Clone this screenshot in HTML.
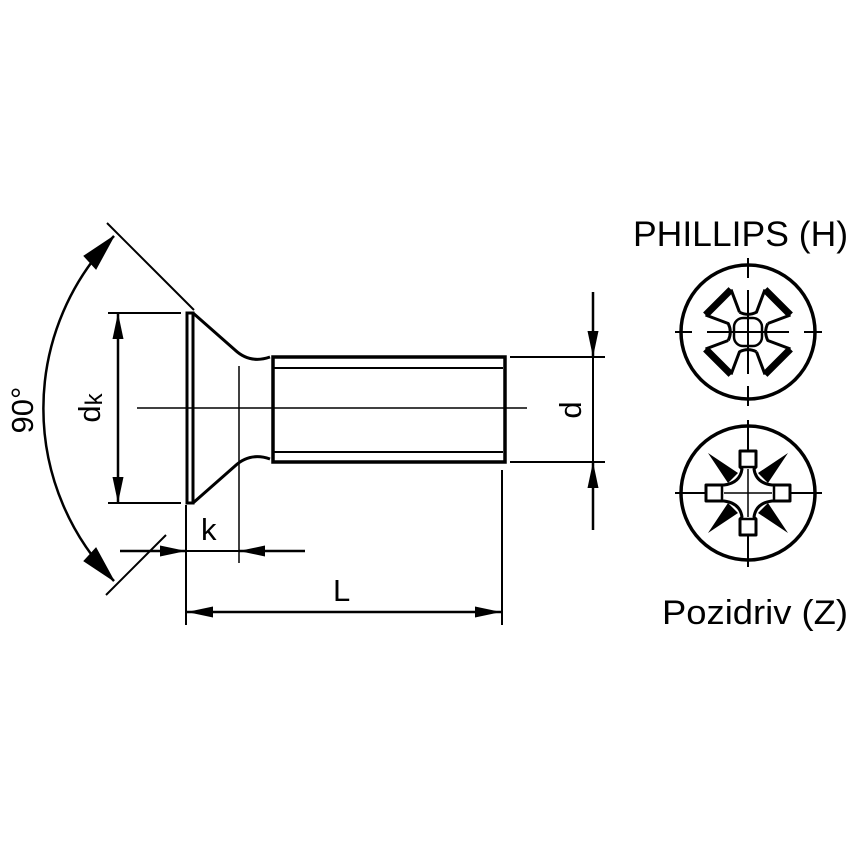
<!DOCTYPE html>
<html><head><style>html,body{margin:0;padding:0;background:#fff}svg{display:block}</style></head>
<body>
<svg width="854" height="854" viewBox="0 0 854 854" xmlns="http://www.w3.org/2000/svg" font-family="Liberation Sans, Arial, sans-serif">
<defs>
<marker id="a" viewBox="0 0 26 11" refX="26" refY="5.5" markerWidth="26" markerHeight="11" markerUnits="userSpaceOnUse" orient="auto"><path d="M0,0 L26,5.5 L0,11 Z" fill="#000"/></marker>
<g id="w">
<path d="M20,8 L42,18 M42,-18 L20,-8 Q11,-11 8,-20" stroke-width="3" fill="none"/>
<path d="M42,18 L42,-18" stroke-width="7" fill="none"/>
</g>
</defs>
<g stroke="#000" fill="none">
<rect x="187" y="313" width="6" height="190" stroke-width="3"/>
<path d="M193,313 L235,350 Q250,364 270,357 M193,503 L235,466 Q250,452 270,459" stroke-width="3"/>
<path d="M273,357 L505,357 L505,462 L273,462 Z" stroke-width="3.5"/>
<path d="M273,368 L503,368 M273,452 L503,452" stroke-width="2"/>
<line x1="137" y1="408" x2="527" y2="408" stroke-width="1.5"/>
<line x1="239" y1="366" x2="239" y2="563" stroke-width="1.5"/>
<path d="M108,313 L181,313 M108,503 L181,503" stroke-width="2"/>
<line x1="118" y1="408" x2="118" y2="313" stroke-width="2.5" marker-end="url(#a)"/>
<line x1="118" y1="408" x2="118" y2="503" stroke-width="2.5" marker-end="url(#a)"/>
<path d="M107,223 L194,310 M166,535 L106,595" stroke-width="2"/>
<path d="M114,236 A246,246 0 0 0 114,581" stroke-width="2.5"/>
<path d="M114,236 l-30,20 l12,13 Z M114,581 l-30,-20 l12,-13 Z" fill="#000" stroke-width="1"/>
<line x1="186" y1="505" x2="186" y2="625" stroke-width="2"/>
<line x1="120" y1="551" x2="186" y2="551" stroke-width="2.5" marker-end="url(#a)"/>
<line x1="305" y1="551" x2="239" y2="551" stroke-width="2.5" marker-end="url(#a)"/>
<line x1="186" y1="551" x2="239" y2="551" stroke-width="2"/>
<line x1="502" y1="470" x2="502" y2="625" stroke-width="2"/>
<line x1="344" y1="612" x2="187" y2="612" stroke-width="2.5" marker-end="url(#a)"/>
<line x1="344" y1="612" x2="501" y2="612" stroke-width="2.5" marker-end="url(#a)"/>
<path d="M510,357 L605,357 M510,462 L605,462" stroke-width="2"/>
<line x1="593" y1="292" x2="593" y2="357" stroke-width="2.5" marker-end="url(#a)"/>
<line x1="593" y1="530" x2="593" y2="462" stroke-width="2.5" marker-end="url(#a)"/>
<line x1="593" y1="357" x2="593" y2="462" stroke-width="2"/>
<circle cx="748" cy="332" r="67" stroke-width="3.5"/>
<path d="M748,258 L748,278 M748,290 L748,374 M748,386 L748,406 M675,332 L692,332 M707,332 L789,332 M804,332 L822,332" stroke-width="2"/>
<g transform="translate(748,332)" stroke-linejoin="round">
<use href="#w" transform="rotate(45)"/>
<use href="#w" transform="rotate(135)"/>
<use href="#w" transform="rotate(225)"/>
<use href="#w" transform="rotate(315)"/>
<rect x="-14" y="-14" width="28" height="28" rx="9" stroke-width="2.5"/>
</g>
<circle cx="748" cy="493" r="67" stroke-width="3.5"/>
<path d="M748,420 L748,567 M675,493 L822,493" stroke-width="2"/>
<g transform="translate(748,493)" fill="#000" stroke="none">
<path d="M-40,-40 L-10,-20 L-20,-10 Z M40,-40 L10,-20 L20,-10 Z M-40,40 L-10,20 L-20,10 Z M40,40 L10,20 L20,10 Z"/>
</g>
<g transform="translate(748,493)" stroke-width="3" fill="#fff" stroke-linejoin="round">
<path d="M-8,-42 L8,-42 L8,-26 L6,-24 Q8,-10 24,-8 L26,-8 L42,-8 L42,8 L26,8 L24,8 Q8,10 6,24 L8,26 L8,42 L-8,42 L-8,26 L-6,24 Q-8,10 -24,8 L-26,8 L-42,8 L-42,-8 L-26,-8 L-24,-8 Q-8,-10 -6,-24 L-8,-26 Z"/>
<path d="M-8,-26 L8,-26 M-8,26 L8,26 M-26,-8 L-26,8 M26,-8 L26,8" stroke-width="2.5"/>
<path d="M0,-24 L0,24 M-24,0 L24,0" stroke-width="1.5"/>
</g>
</g>
<g fill="#000" font-size="31">
<text x="0" y="0" transform="translate(33,410) rotate(-90)" text-anchor="middle">90°</text>
<text x="0" y="0" transform="translate(100,408) rotate(-90)" text-anchor="middle">d<tspan font-size="24" dy="2">k</tspan></text>
<text x="201" y="540">k</text>
<text x="333" y="601">L</text>
<text x="0" y="0" transform="translate(581,410) rotate(-90)" text-anchor="middle">d</text>
<text x="633" y="246" font-size="35.5">PHILLIPS (H)</text>
<text x="662" y="624" font-size="34" textLength="186" lengthAdjust="spacingAndGlyphs">Pozidriv (Z)</text>
</g>
</svg>
</body></html>
